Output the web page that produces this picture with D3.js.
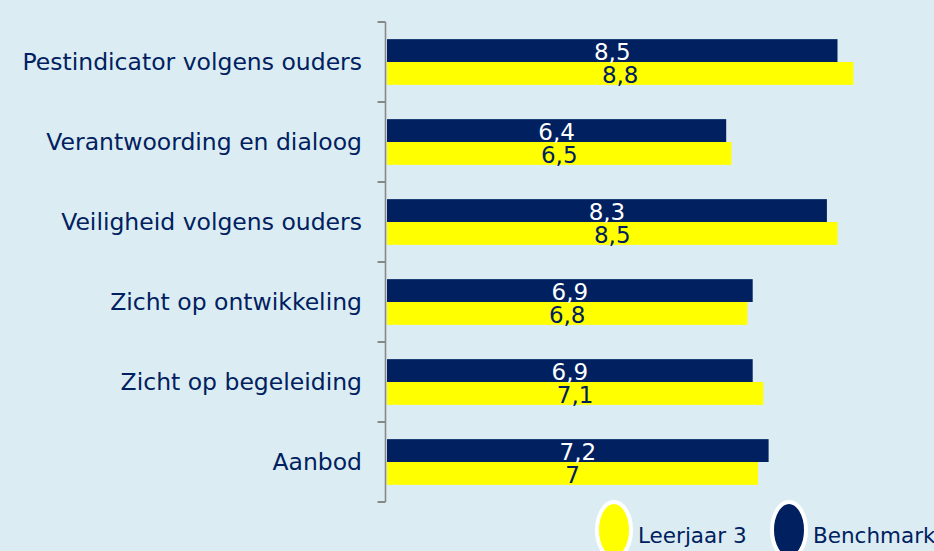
<!DOCTYPE html>
<html>
<head>
<meta charset="utf-8">
<script src="https://cdn.jsdelivr.net/npm/d3@7"></script>
<style>
  body { margin: 0; background: #dbedf3; }
  svg { display: block; }
  text { font-family: "DejaVu Sans", sans-serif; }
</style>
</head>
<body>
<div id="chart"></div>
<script>
// categorieën van boven naar beneden
const categories = [
    "Pestindicator volgens ouders",
    "Verantwoording en dialoog",
    "Veiligheid volgens ouders",
    "Zicht op ontwikkeling",
    "Zicht op begeleiding",
    "Aanbod"
];
const seriesNames = ["Benchmark", "Leerjaar 3"];
const benchmark = [8.5, 6.4, 8.3, 6.9, 6.9, 7.2];
const leerjaar3 = [8.8, 6.5, 8.5, 6.8, 7.1, 7.0];
const legendNames = ["Leerjaar 3", "Benchmark"];

const navy = "#002060";
const yellow = "#ffff00";
const kleuren = { "Benchmark": navy, "Leerjaar 3": yellow };
const labelKleur = { "Benchmark": "#ffffff", "Leerjaar 3": navy };

const width = 934, height = 551;

const svg = d3.select("#chart").append("svg")
    .attr("width", width)
    .attr("height", height);

const echelleX = d3.scaleLinear()
    .domain([0, 10])
    .range([387, 917]);

const echelleY = d3.scaleBand()
    .domain(categories)
    .range([22, 502])
    .padding(0);

const sousY = d3.scaleBand()
    .domain(seriesNames)
    .range([0, echelleY.bandwidth()])
    .paddingInner(0)
    .paddingOuter(0.75);

const donnees = [];
categories.forEach((c, i) => {
    donnees.push({ cat: c, serie: "Benchmark", val: benchmark[i] });
    donnees.push({ cat: c, serie: "Leerjaar 3", val: leerjaar3[i] });
});

// axe vertical avec petits traits entre les catégories
const axeX = echelleX(0) - 1.5;
const tickPos = categories.map(c => echelleY(c)).concat([echelleY.range()[1]]);
svg.append("line")
    .attr("x1", axeX).attr("x2", axeX)
    .attr("y1", tickPos[0]).attr("y2", tickPos[tickPos.length - 1])
    .attr("stroke", "#888888")
    .attr("stroke-width", 1.6);
svg.selectAll(".tick")
    .data(tickPos)
    .join("line")
    .attr("class", "tick")
    .attr("x1", axeX - 8).attr("x2", axeX)
    .attr("y1", d => d).attr("y2", d => d)
    .attr("stroke", "#888888")
    .attr("stroke-width", 2);

// barres
svg.selectAll(".bar")
    .data(donnees)
    .join("rect")
    .attr("class", "bar")
    .attr("x", echelleX(0))
    .attr("y", d => echelleY(d.cat) + sousY(d.serie))
    .attr("width", d => echelleX(d.val) - echelleX(0))
    .attr("height", sousY.bandwidth())
    .attr("fill", d => kleuren[d.serie]);

// étiquettes des valeurs
svg.selectAll(".val")
    .data(donnees)
    .join("text")
    .attr("class", "val")
    .attr("x", d => (echelleX(0) + echelleX(d.val)) / 2)
    .attr("y", d => echelleY(d.cat) + sousY(d.serie) + sousY.bandwidth() - 2)
    .attr("text-anchor", "middle")
    .attr("font-size", 23)
    .attr("fill", d => labelKleur[d.serie])
    .text(d => String(d.val).replace(".", ","));

// noms des catégories
svg.selectAll(".cat")
    .data(categories)
    .join("text")
    .attr("class", "cat")
    .attr("x", 362)
    .attr("y", d => echelleY(d) + echelleY.bandwidth() / 2)
    .attr("dy", "0.35em")
    .attr("text-anchor", "end")
    .attr("font-size", 23.5)
    .attr("fill", navy)
    .text(d => d);

// légende
const legendX = [614, 789];
const legende = svg.selectAll(".leg")
    .data(legendNames)
    .join("g")
    .attr("class", "leg")
    .attr("transform", (d, i) => "translate(" + legendX[i] + ",530)");
legende.append("ellipse")
    .attr("rx", 17)
    .attr("ry", 28)
    .attr("fill", d => kleuren[d])
    .attr("stroke", "#ffffff")
    .attr("stroke-width", 4);
legende.append("text")
    .attr("x", 24)
    .attr("y", 13)
    .attr("font-size", 21.5)
    .attr("fill", navy)
    .text(d => d);
</script>
</body>
</html>
